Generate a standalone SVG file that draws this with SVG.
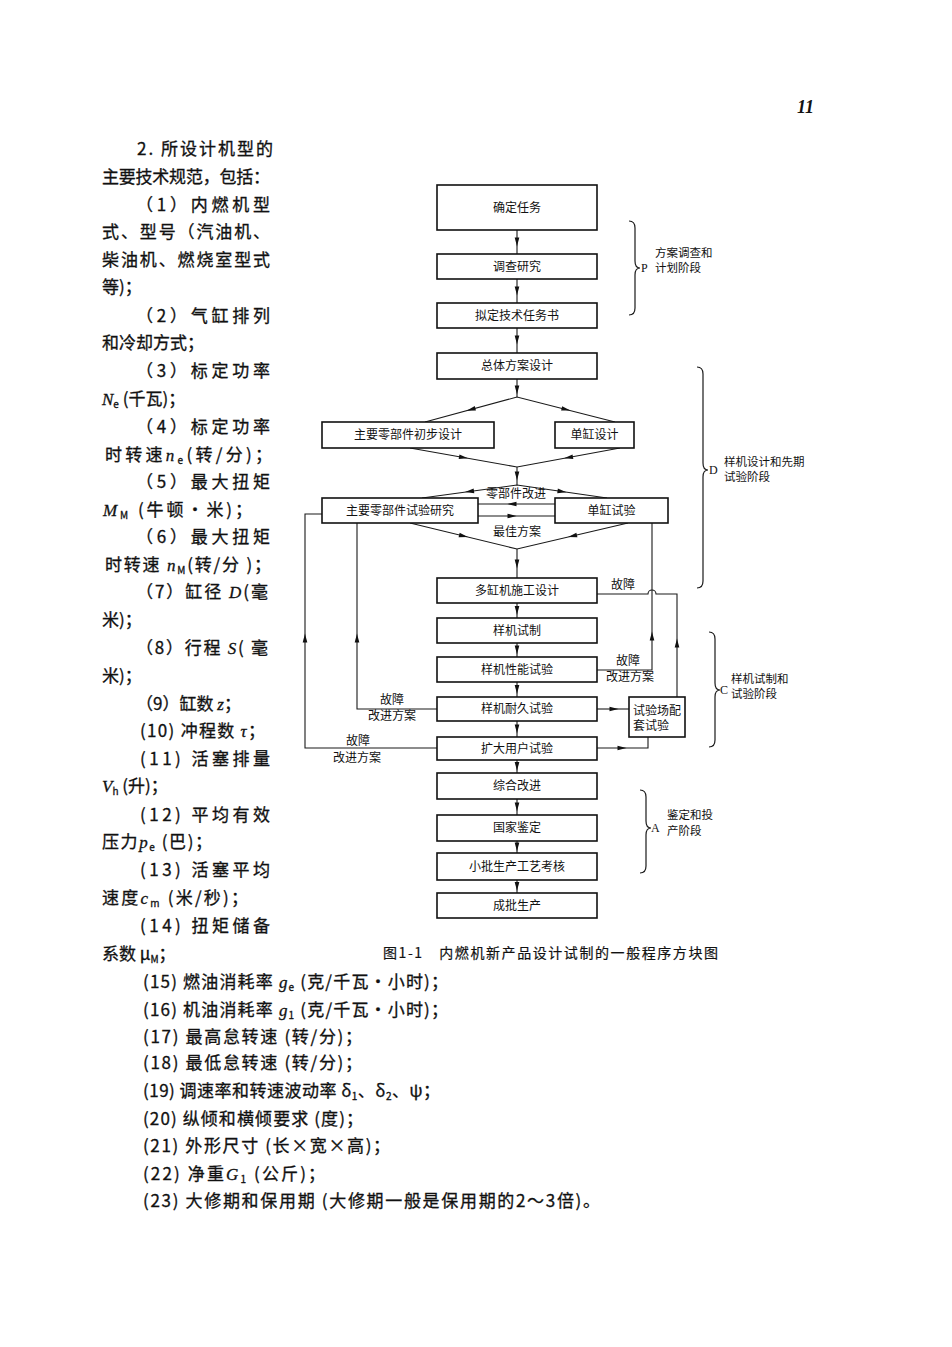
<svg xmlns="http://www.w3.org/2000/svg" xmlns:xlink="http://www.w3.org/1999/xlink" width="952" height="1347" viewBox="0 0 952 1347">
<style>
.box{fill:#fff;stroke:#111;stroke-width:1.6}
.ln{fill:none;stroke:#1a1a1a;stroke-width:1.1}
.br{fill:none;stroke:#1a1a1a;stroke-width:1.2}
.bt{font-family:"Noto Sans CJK SC","Noto Sans",sans-serif;font-size:12px;text-anchor:middle;fill:#111}
.lt{font-family:"Noto Sans CJK SC","Noto Sans",sans-serif;font-size:12px;fill:#111}
.lb{font-family:"Noto Sans CJK SC","Noto Sans",sans-serif;font-size:11.5px;fill:#111}
.stg{font-family:"Liberation Serif",serif;font-size:12px;fill:#111}
.body{font-family:"Noto Sans CJK SC","Noto Sans",sans-serif;font-size:17px;fill:#111;stroke:#111;stroke-width:0.3}
.it{font-family:"Liberation Serif",serif;font-style:italic}
.sub{font-size:10px}
.cap{font-family:"Noto Sans CJK SC",sans-serif;font-size:14px;fill:#111;stroke:#111;stroke-width:0.2}
.pg{font-family:"Liberation Serif",serif;font-size:18px;font-weight:bold;font-style:italic;fill:#111}
.ah{fill:#111}
</style>
<defs>
<path id="ah" d="M-4.5,-2.3 L4.5,0 L-4.5,2.3 Z"/>
</defs>

<text class="pg" x="797" y="113">11</text>

<!-- left text column -->
<g id="text-column">
<text class="body" x="137" y="155" textLength="136" lengthAdjust="spacing">2. 所设计机型的</text>
<text class="body" x="102" y="183" textLength="168" lengthAdjust="spacing">主要技术规范，包括：</text>
<text class="body" x="136" y="211" textLength="134" lengthAdjust="spacing">（1）内燃机型</text>
<text class="body" x="102" y="238" textLength="168" lengthAdjust="spacing">式、型号（汽油机、</text>
<text class="body" x="102" y="266" textLength="168" lengthAdjust="spacing">柴油机、燃烧室型式</text>
<text class="body" x="102" y="293">等)；</text>
<text class="body" x="136" y="322" textLength="134" lengthAdjust="spacing">（2）气缸排列</text>
<text class="body" x="102" y="349">和冷却方式；</text>
<text class="body" x="136" y="377" textLength="134" lengthAdjust="spacing">（3）标定功率</text>
<text class="body" x="102" y="405"><tspan class="it">N</tspan><tspan class="sub" dy="3">e</tspan><tspan dy="-3"> (千瓦)；</tspan></text>
<text class="body" x="136" y="433" textLength="134" lengthAdjust="spacing">（4）标定功率</text>
<text class="body" x="105" y="461" textLength="167" lengthAdjust="spacing">时转速<tspan class="it">n</tspan><tspan class="sub" dy="3">e</tspan><tspan dy="-3">(转/分)；</tspan></text>
<text class="body" x="136" y="488" textLength="134" lengthAdjust="spacing">（5）最大扭矩</text>
<text class="body" x="103" y="516" textLength="149" lengthAdjust="spacing"><tspan class="it">M</tspan><tspan class="sub" dy="3">M</tspan><tspan dy="-3"> (牛顿·米)；</tspan></text>
<text class="body" x="136" y="543" textLength="134" lengthAdjust="spacing">（6）最大扭矩</text>
<text class="body" x="105" y="571" textLength="166" lengthAdjust="spacing">时转速 <tspan class="it">n</tspan><tspan class="sub" dy="3">M</tspan><tspan dy="-3">(转/分 )；</tspan></text>
<text class="body" x="136" y="598" textLength="132" lengthAdjust="spacing">（7）缸径 <tspan class="it">D</tspan>(毫</text>
<text class="body" x="102" y="626">米)；</text>
<text class="body" x="136" y="654" textLength="132" lengthAdjust="spacing">（8）行程 <tspan class="it">S</tspan>( 毫</text>
<text class="body" x="102" y="682">米)；</text>
<text class="body" x="136" y="710">（9）缸数 <tspan class="it">z</tspan>；</text>
<text class="body" x="140" y="737" textLength="125" lengthAdjust="spacing">(10) 冲程数 <tspan class="it">τ</tspan>；</text>
<text class="body" x="140" y="765" textLength="130" lengthAdjust="spacing">(11) 活塞排量</text>
<text class="body" x="102" y="792"><tspan class="it">V</tspan><tspan class="sub" dy="3">h</tspan><tspan dy="-3"> (升)；</tspan></text>
<text class="body" x="140" y="821" textLength="130" lengthAdjust="spacing">(12) 平均有效</text>
<text class="body" x="102" y="848" textLength="110" lengthAdjust="spacing">压力<tspan class="it">p</tspan><tspan class="sub" dy="3">e</tspan><tspan dy="-3"> (巴)；</tspan></text>
<text class="body" x="140" y="876" textLength="130" lengthAdjust="spacing">(13) 活塞平均</text>
<text class="body" x="102" y="904" textLength="146" lengthAdjust="spacing">速度<tspan class="it">c</tspan><tspan class="sub" dy="3">m</tspan><tspan dy="-3"> (米/秒)；</tspan></text>
<text class="body" x="140" y="932" textLength="130" lengthAdjust="spacing">(14) 扭矩储备</text>
<text class="body" x="102" y="960">系数 μ<tspan class="sub" dy="3">M</tspan><tspan dy="-3">；</tspan></text>
</g>

<g id="text-list">
<text class="body" x="143" y="988" textLength="305" lengthAdjust="spacing">(15) 燃油消耗率 <tspan class="it">g</tspan><tspan class="sub" dy="3">e</tspan><tspan dy="-3"> (克/千瓦·小时)；</tspan></text>
<text class="body" x="143" y="1016" textLength="305" lengthAdjust="spacing">(16) 机油消耗率 <tspan class="it">g</tspan><tspan class="sub" dy="3">1</tspan><tspan dy="-3"> (克/千瓦·小时)；</tspan></text>
<text class="body" x="143" y="1043" textLength="219" lengthAdjust="spacing">(17) 最高怠转速 (转/分)；</text>
<text class="body" x="143" y="1069" textLength="219" lengthAdjust="spacing">(18) 最低怠转速 (转/分)；</text>
<text class="body" x="143" y="1097" textLength="297" lengthAdjust="spacing">(19) 调速率和转速波动率 δ<tspan class="sub" dy="3">1</tspan><tspan dy="-3">、δ</tspan><tspan class="sub" dy="3">2</tspan><tspan dy="-3">、ψ；</tspan></text>
<text class="body" x="143" y="1125" textLength="220" lengthAdjust="spacing">(20) 纵倾和横倾要求 (度)；</text>
<text class="body" x="143" y="1152" textLength="247" lengthAdjust="spacing">(21) 外形尺寸 (长×宽×高)；</text>
<text class="body" x="143" y="1180" textLength="182" lengthAdjust="spacing">(22) 净重<tspan class="it">G</tspan><tspan class="sub" dy="3">1</tspan><tspan dy="-3"> (公斤)；</tspan></text>
<text class="body" x="143" y="1207" textLength="457" lengthAdjust="spacing">(23) 大修期和保用期 (大修期一般是保用期的2～3倍)。</text>
</g>

<!-- connectors -->
<g id="connectors">
<path class="ln" d="M517,230 V254 M517,279 V303 M517,328 V353 M517,379 V397"/>
<path class="ln" d="M425,422 L517,397 L615,422"/>
<path class="ln" d="M410,448 L517,467 L620,448"/>
<path class="ln" d="M517,467 V485"/>
<path class="ln" d="M422,498 L517,485 L607,498"/>
<path class="ln" d="M478,504 H555 M478,516 H555"/>
<path class="ln" d="M410,523 L517,549 L628,523"/>
<path class="ln" d="M517,549 V578 M517,603 V618 M517,643 V657 M517,682 V697 M517,721 V737 M517,760 V773 M517,799 V815 M517,841 V853 M517,880 V893"/>
<path class="ln" d="M437,748 H305 V514 H322"/>
<path class="ln" d="M437,709 H357 V523"/>
<path class="ln" d="M597,670 H652 V522"/>
<path class="ln" d="M677,697 V594 H656 A4,4 0 0 0 648,594 H597"/>
<path class="ln" d="M597,709 H629"/>
<path class="ln" d="M597,748 H648 V737"/>
<g class="ah">
<use xlink:href="#ah" transform="translate(517,242) rotate(90)"/>
<use xlink:href="#ah" transform="translate(517,291) rotate(90)"/>
<use xlink:href="#ah" transform="translate(517,340) rotate(90)"/>
<use xlink:href="#ah" transform="translate(517,390) rotate(90)"/>
<use xlink:href="#ah" transform="translate(471,409.5) rotate(164.8)"/>
<use xlink:href="#ah" transform="translate(566,409.5) rotate(14.3)"/>
<use xlink:href="#ah" transform="translate(463.5,457.5) rotate(10.1)"/>
<use xlink:href="#ah" transform="translate(568.5,457.5) rotate(169.5)"/>
<use xlink:href="#ah" transform="translate(517,476) rotate(90)"/>
<use xlink:href="#ah" transform="translate(469.5,491.5) rotate(172.2)"/>
<use xlink:href="#ah" transform="translate(562,491.5) rotate(8.2)"/>
<use xlink:href="#ah" transform="translate(512,504) rotate(180)"/>
<use xlink:href="#ah" transform="translate(512,516)"/>
<use xlink:href="#ah" transform="translate(463.5,536) rotate(13.7)"/>
<use xlink:href="#ah" transform="translate(572.5,536) rotate(166.8)"/>
<use xlink:href="#ah" transform="translate(517,564) rotate(90)"/>
<use xlink:href="#ah" transform="translate(517,610.5) rotate(90)"/>
<use xlink:href="#ah" transform="translate(517,650) rotate(90)"/>
<use xlink:href="#ah" transform="translate(517,689.5) rotate(90)"/>
<use xlink:href="#ah" transform="translate(517,729) rotate(90)"/>
<use xlink:href="#ah" transform="translate(517,766.5) rotate(90)"/>
<use xlink:href="#ah" transform="translate(517,807) rotate(90)"/>
<use xlink:href="#ah" transform="translate(517,847) rotate(90)"/>
<use xlink:href="#ah" transform="translate(517,886.5) rotate(90)"/>
<use xlink:href="#ah" transform="translate(305,638) rotate(-90)"/>
<use xlink:href="#ah" transform="translate(357,638) rotate(-90)"/>
<use xlink:href="#ah" transform="translate(652,636) rotate(-90)"/>
<use xlink:href="#ah" transform="translate(677,643) rotate(-90)"/>
<use xlink:href="#ah" transform="translate(614,709)"/>
<use xlink:href="#ah" transform="translate(622,748)"/>
</g>
<text class="bt" x="516" y="498">零部件改进</text>
<text class="bt" x="517" y="536">最佳方案</text>
<text class="lt" x="611" y="589">故障</text>
<text class="lt" x="616" y="665">故障</text>
<text class="lt" x="606" y="681">改进方案</text>
<text class="lt" x="380" y="704">故障</text>
<text class="lt" x="368" y="720">改进方案</text>
<text class="lt" x="346" y="745">故障</text>
<text class="lt" x="333" y="762">改进方案</text>
</g>

<!-- nodes -->
<g id="n1"><rect class="box" x="437" y="185" width="160" height="45"/><text class="bt" x="517" y="211.5">确定任务</text></g>
<g id="n2"><rect class="box" x="437" y="254" width="160" height="25"/><text class="bt" x="517" y="270.5">调查研究</text></g>
<g id="n3"><rect class="box" x="437" y="303" width="160" height="25"/><text class="bt" x="517" y="319.5">拟定技术任务书</text></g>
<g id="n4"><rect class="box" x="437" y="353" width="160" height="26"/><text class="bt" x="517" y="370">总体方案设计</text></g>
<g id="n5"><rect class="box" x="322" y="422" width="172" height="26"/><text class="bt" x="408" y="439">主要零部件初步设计</text></g>
<g id="n6"><rect class="box" x="555" y="422" width="79" height="26"/><text class="bt" x="594.5" y="439">单缸设计</text></g>
<g id="n7"><rect class="box" x="322" y="498" width="156" height="25"/><text class="bt" x="400" y="514.5">主要零部件试验研究</text></g>
<g id="n8"><rect class="box" x="555" y="498" width="113" height="25"/><text class="bt" x="611.5" y="514.5">单缸试验</text></g>
<g id="n9"><rect class="box" x="437" y="578" width="160" height="25"/><text class="bt" x="517" y="594.5">多缸机施工设计</text></g>
<g id="n10"><rect class="box" x="437" y="618" width="160" height="25"/><text class="bt" x="517" y="634.5">样机试制</text></g>
<g id="n11"><rect class="box" x="437" y="657" width="160" height="25"/><text class="bt" x="517" y="673.5">样机性能试验</text></g>
<g id="n12"><rect class="box" x="437" y="697" width="160" height="24"/><text class="bt" x="517" y="713">样机耐久试验</text></g>
<g id="n13"><rect class="box" x="437" y="737" width="160" height="23"/><text class="bt" x="517" y="752.5">扩大用户试验</text></g>
<g id="n14"><rect class="box" x="437" y="773" width="160" height="26"/><text class="bt" x="517" y="790">综合改进</text></g>
<g id="n15"><rect class="box" x="437" y="815" width="160" height="26"/><text class="bt" x="517" y="832">国家鉴定</text></g>
<g id="n16"><rect class="box" x="437" y="853" width="160" height="27"/><text class="bt" x="517" y="870.5">小批生产工艺考核</text></g>
<g id="n17"><rect class="box" x="437" y="893" width="160" height="25"/><text class="bt" x="517" y="909.5">成批生产</text></g>
<g id="n18"><rect class="box" x="629" y="697" width="56" height="40"/><text class="lt" x="633" y="715">试验场配</text><text class="lt" x="633" y="730">套试验</text></g>

<!-- stage braces -->
<g id="stage-P">
<path class="br" d="M629,221 Q635,221 635,228 L635,261 Q635,268 640,268 Q635,268 635,275 L635,308 Q635,315 629,315"/>
<text class="stg" x="641" y="272">P</text>
<text class="lb" x="655" y="257">方案调查和</text>
<text class="lb" x="655" y="272">计划阶段</text>
</g>
<g id="stage-D">
<path class="br" d="M697,367 Q703,367 703,374 L703,463 Q703,470 708,470 Q703,470 703,477 L703,581 Q703,588 697,588"/>
<text class="stg" x="709" y="474">D</text>
<text class="lb" x="724" y="466">样机设计和先期</text>
<text class="lb" x="724" y="481">试验阶段</text>
</g>
<g id="stage-C">
<path class="br" d="M709,632 Q715,632 715,639 L715,683 Q715,690 720,690 Q715,690 715,697 L715,740 Q715,747 709,747"/>
<text class="stg" x="720" y="694">C</text>
<text class="lb" x="731" y="683">样机试制和</text>
<text class="lb" x="731" y="698">试验阶段</text>
</g>
<g id="stage-A">
<path class="br" d="M640,790 Q646,790 646,797 L646,821 Q646,828 651,828 Q646,828 646,835 L646,866 Q646,873 640,873"/>
<text class="stg" x="651" y="832">A</text>
<text class="lb" x="667" y="819">鉴定和投</text>
<text class="lb" x="667" y="835">产阶段</text>
</g>

<text class="cap" x="383" y="958" textLength="335" lengthAdjust="spacing">图1-1　内燃机新产品设计试制的一般程序方块图</text>
</svg>
